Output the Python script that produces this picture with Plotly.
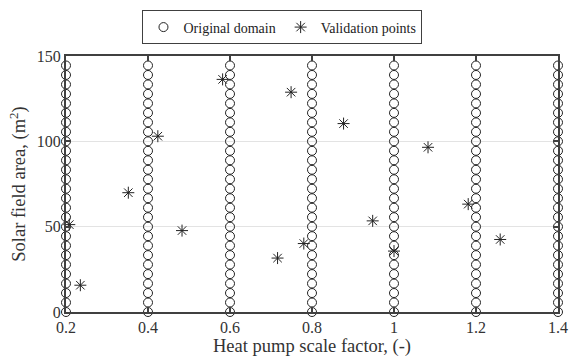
import plotly.graph_objects as go

# Original domain grid
orig_x_levels = [0.2, 0.4, 0.6, 0.8, 1.0, 1.2, 1.4]
orig_y_levels = [0, 5.56, 11.11, 16.67, 22.22, 27.78, 33.33, 38.89, 44.44, 50,
                 55.56, 61.11, 66.67, 72.22, 77.78, 83.33, 88.89, 94.44, 100,
                 105.56, 111.11, 116.67, 122.22, 127.78, 133.33, 138.89, 144.44]

# Validation points
val_x = [0.208, 0.235, 0.352, 0.424, 0.483, 0.582, 0.716, 0.749, 0.780,
         0.877, 0.948, 1.0, 1.083, 1.181, 1.259]
val_y = [51.2, 15.7, 69.9, 103.0, 47.7, 136.3, 31.6, 128.8, 40.1,
         110.4, 53.4, 35.7, 96.5, 63.2, 42.5]

x_ticks = [0.2, 0.4, 0.6, 0.8, 1.0, 1.2, 1.4]
x_ticktext = ["0.2", "0.4", "0.6", "0.8", "1", "1.2", "1.4"]
y_ticks = [0, 50, 100, 150]

ox, oy = [], []
for xv in orig_x_levels:
    for yv in orig_y_levels:
        ox.append(xv)
        oy.append(yv)

font_family = "Liberation Serif"
axis_col = "#404040"

fig = go.Figure()
fig.add_trace(go.Scatter(
    x=ox, y=oy, mode="markers", name="Original domain",
    marker=dict(symbol="circle-open", size=9, color="#222222", line=dict(width=1)),
    cliponaxis=False,
))
fig.add_trace(go.Scatter(
    x=val_x, y=val_y, mode="markers", name="Validation points",
    marker=dict(symbol="asterisk-open", size=10, color="#222222", line=dict(width=1, color="#222222")),
    cliponaxis=False,
))

fig.update_layout(
    width=579, height=363,
    margin=dict(l=66, r=11, t=44, b=48),
    plot_bgcolor="white", paper_bgcolor="white",
    font=dict(family=font_family, size=15, color="#333333"),
    showlegend=True,
    legend=dict(
        orientation="h", x=0.44, xanchor="center", y=1.045, yanchor="bottom",
        bordercolor=axis_col, borderwidth=1, bgcolor="white",
        font=dict(size=14, color="#222222"),
        itemwidth=30,
    ),
    xaxis=dict(
        range=[0.2, 1.4], tickvals=x_ticks, ticktext=x_ticktext,
        showline=True, linecolor=axis_col, linewidth=2, mirror="ticks",
        ticks="inside", ticklen=5, tickcolor=axis_col, tickwidth=1.5,
        showgrid=False, zeroline=False,
        title=dict(text="Heat pump scale factor, (-)", font=dict(size=18.5), standoff=3),
        tickfont=dict(size=16),
    ),
    yaxis=dict(
        range=[0, 150], tickvals=y_ticks,
        showline=True, linecolor=axis_col, linewidth=2, mirror="ticks",
        ticks="inside", ticklen=5, tickcolor=axis_col, tickwidth=1.5,
        showgrid=True, gridcolor="#e3e3e3", gridwidth=1, zeroline=False,
        title=dict(text="Solar field area, (m<sup>2</sup>)", font=dict(size=18.5), standoff=6),
        tickfont=dict(size=16),
    ),
)

fig.write_html("out.html")
